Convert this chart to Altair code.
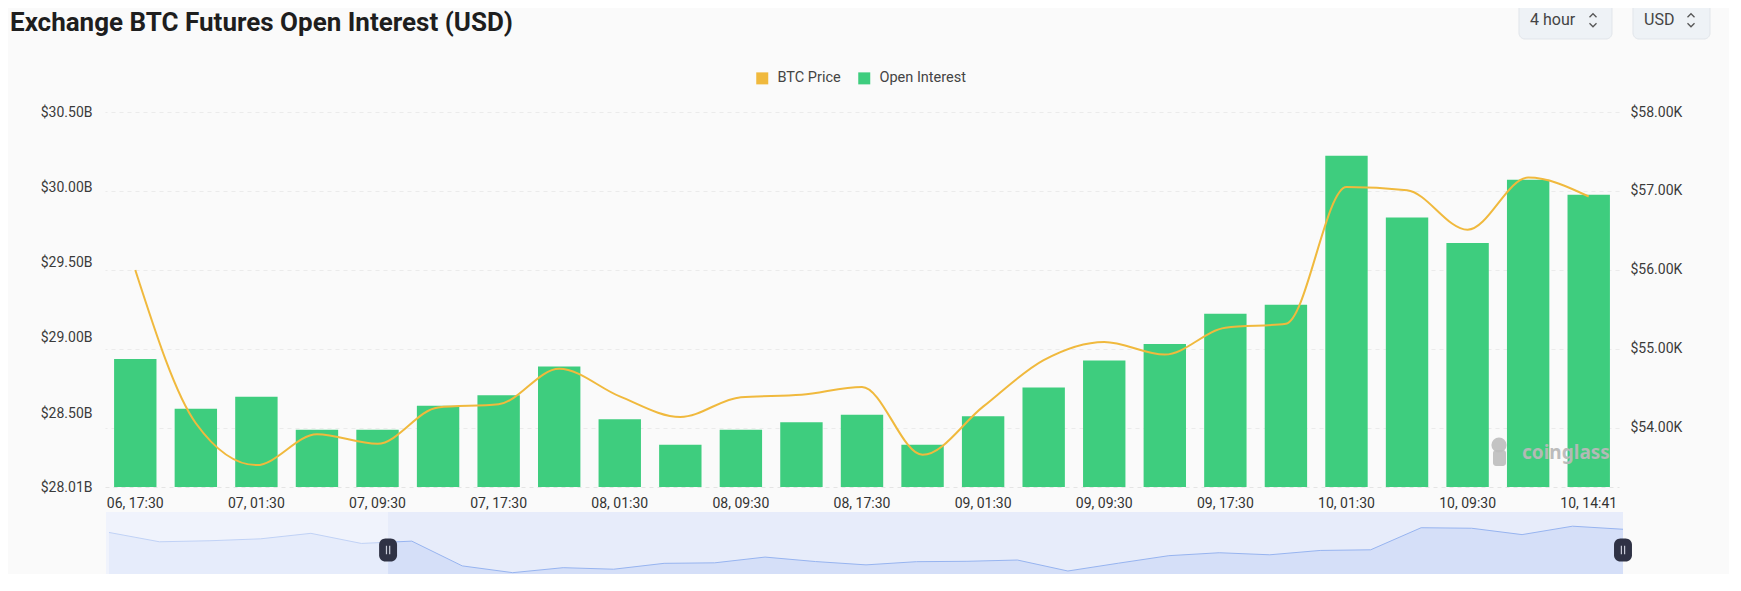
import altair as alt
import pandas as pd

# ---------------- data ----------------
times = ["06, 17:30", "06, 21:30", "07, 01:30", "07, 05:30", "07, 09:30", "07, 13:30",
         "07, 17:30", "07, 21:30", "08, 01:30", "08, 05:30", "08, 09:30", "08, 13:30",
         "08, 17:30", "08, 21:30", "09, 01:30", "09, 05:30", "09, 09:30", "09, 13:30",
         "09, 17:30", "09, 21:30", "10, 01:30", "10, 05:30", "10, 09:30", "10, 13:30",
         "10, 14:41"]
open_interest_b = [28.86, 28.53, 28.61, 28.39, 28.39, 28.55, 28.62, 28.81, 28.46, 28.29,
                   28.39, 28.44, 28.49, 28.29, 28.48, 28.67, 28.85, 28.96, 29.16, 29.22,
                   30.21, 29.80, 29.63, 30.05, 29.95]
btc_price_k = [56.00, 54.06, 53.53, 53.92, 53.80, 54.26, 54.30, 54.75, 54.40, 54.14,
               54.39, 54.42, 54.52, 53.66, 54.27, 54.86, 55.09, 54.93, 55.27, 55.32,
               57.05, 57.01, 56.51, 57.17, 56.93]
# overview (data-zoom) series: earlier price points followed by the visible window
earlier_price_k = [56.68, 55.95, 56.03, 56.18, 56.61, 55.82]
window_handles = [5.53, 30.0]
oi_axis_min = 28.01
left_ticks = [28.01, 28.5, 29.0, 29.5, 30.0, 30.5]
right_ticks = [54, 55, 56, 57, 58]
x_labels = times[::2]

GREEN = "#3ecd7e"
GOLD = "#f0b93d"
FONT = "Roboto"

df_main = pd.DataFrame({"time": times, "oi": open_interest_b, "price": btc_price_k,
                        "series": "Open Interest", "base": oi_axis_min})
overview_price = earlier_price_k + btc_price_k
df_over = pd.DataFrame({"i": list(range(len(overview_price))), "price": overview_price})

# ---------------- main chart ----------------
x_enc = alt.X("time:N", sort=times, title=None,
              scale=alt.Scale(paddingInner=0.3, paddingOuter=0.15),
              axis=alt.Axis(values=x_labels, labelAngle=0, ticks=False, grid=False,
                            domain=True, domainColor="#e4e4e4", domainDash=[4, 4],
                            labelPadding=9, labelFontSize=14, labelColor="#333333",
                            labelFont=FONT))

bars = alt.Chart(df_main).mark_bar().encode(
    x=x_enc,
    y=alt.Y("oi:Q", title=None,
            scale=alt.Scale(domain=[oi_axis_min, 30.5], nice=False, zero=False),
            axis=alt.Axis(orient="left", values=left_ticks, grid=False, ticks=False,
                          domain=False, labelPadding=13,
                          labelExpr="'$' + format(datum.value, '.2f') + 'B'")),
    y2="base:Q",
    color=alt.Color("series:N",
                    scale=alt.Scale(domain=["BTC Price", "Open Interest"], range=[GOLD, GREEN]),
                    legend=alt.Legend(orient="none", legendX=650, legendY=-41,
                                      direction="horizontal", title=None, symbolType="square",
                                      symbolSize=144, symbolStrokeWidth=0, labelFontSize=14.5,
                                      labelColor="#444444", labelFont=FONT, labelOffset=8,
                                      columnPadding=16, padding=0)),
)

price_line = alt.Chart(df_main).mark_line(color=GOLD, strokeWidth=2, interpolate="monotone").encode(
    x=alt.X("time:N", sort=times),
    y=alt.Y("price:Q", title=None,
            scale=alt.Scale(domain=[53.253, 58], nice=False, zero=False),
            axis=alt.Axis(orient="right", values=right_ticks, grid=True, gridDash=[4, 4],
                          gridColor="#ebebeb", ticks=False, domain=False, labelPadding=11,
                          labelExpr="'$' + format(datum.value, '.2f') + 'K'")),
)

main = alt.layer(bars, price_line).resolve_scale(y="independent")

# ---------------- overview slider ----------------
sx = alt.Scale(domain=[0, 30], range=[4, 1518])
sy = alt.Scale(domain=[53.425, 58], range=[462, 403.6], nice=False, zero=False)

box = alt.Chart(pd.DataFrame({"s": [-0.06], "h": [window_handles[1]]})).mark_rect(
    color="#e7ecfa").encode(
    x=alt.X("s:Q", scale=sx, axis=None), x2="h", y=alt.value(400), y2=alt.value(462))

over_area = alt.Chart(df_over).mark_area(color="#d5dff8", interpolate="linear").encode(
    x=alt.X("i:Q", scale=sx, axis=None),
    y=alt.Y("price:Q", scale=sy, axis=None), y2=alt.value(462))

over_line = alt.Chart(df_over).mark_line(color="#97b4f0", strokeWidth=1).encode(
    x=alt.X("i:Q", scale=sx, axis=None),
    y=alt.Y("price:Q", scale=sy, axis=None))

unselected = alt.Chart(pd.DataFrame({"s": [-0.06], "h": [window_handles[0]]})).mark_rect(
    color="#ffffff", opacity=0.4).encode(
    x=alt.X("s:Q", scale=sx, axis=None), x2="h", y=alt.value(400), y2=alt.value(462))

handle_path = ("M-0.23,-1 L0.23,-1 A0.55,0.55 0 0 1 0.78,-0.45 L0.78,0.45 "
               "A0.55,0.55 0 0 1 0.23,1 L-0.23,1 A0.55,0.55 0 0 1 -0.78,0.45 "
               "L-0.78,-0.45 A0.55,0.55 0 0 1 -0.23,-1 Z")
df_h = pd.DataFrame({"h": window_handles})
handles = alt.Chart(df_h).mark_point(shape=handle_path, filled=True, color="#2f3245",
                                     size=529, opacity=1).encode(
    x=alt.X("h:Q", scale=sx, axis=None), y=alt.value(438))
grips = alt.Chart(df_h).mark_point(shape="M-0.14,-0.38L-0.14,0.38M0.14,-0.38L0.14,0.38",
                                   filled=False, stroke="#c9ccd8", strokeWidth=1.2,
                                   size=529, opacity=1).encode(
    x=alt.X("h:Q", scale=sx, axis=None), y=alt.value(438))

slider = alt.layer(box, over_area, over_line, unselected, handles, grips)

# ---------------- decorations (title, selectors, watermark) ----------------
one = pd.DataFrame({"k": [0]})


def txt(text, x, y, size, color, weight="normal", font=FONT, align="left", opacity=1):
    return alt.Chart(one).mark_text(text=text, align=align, baseline="middle", fontSize=size,
                                    font=font, fontWeight=weight, color=color,
                                    opacity=opacity).encode(x=alt.value(x), y=alt.value(y))


title = txt("Exchange BTC Futures Open Interest (USD)", -95, -89, 26, "#1e1e1e", weight="bold")

btn1 = alt.Chart(one).mark_rect(color="#eef2f6", stroke="#e1e5ea", cornerRadius=6).encode(
    x=alt.value(1414), x2=alt.value(1507), y=alt.value(-111), y2=alt.value(-73))
btn2 = alt.Chart(one).mark_rect(color="#eef2f6", stroke="#e1e5ea", cornerRadius=6).encode(
    x=alt.value(1528), x2=alt.value(1605), y=alt.value(-111), y2=alt.value(-73))
btn1_t = txt("4 hour", 1425, -92, 16, "#444444")
btn2_t = txt("USD", 1539, -92, 16, "#444444")


def chevrons(x):
    up = alt.Chart(one).mark_point(shape="M-1,0.5L0,-0.5L1,0.5", filled=False, stroke="#555555",
                                   strokeWidth=1.3, size=49, opacity=1).encode(
        x=alt.value(x), y=alt.value(-96.5))
    dn = alt.Chart(one).mark_point(shape="M-1,-0.5L0,0.5L1,-0.5", filled=False, stroke="#555555",
                                   strokeWidth=1.3, size=49, opacity=1).encode(
        x=alt.value(x), y=alt.value(-87))
    return [up, dn]


wm_head = alt.Chart(one).mark_point(shape="circle", filled=True, color="#bdbdbd", size=230,
                                    opacity=0.9).encode(x=alt.value(1394), y=alt.value(333))
wm_body = alt.Chart(one).mark_rect(color="#bdbdbd", opacity=0.9, cornerRadius=3).encode(
    x=alt.value(1388), x2=alt.value(1401), y=alt.value(338), y2=alt.value(354))
wm_text = txt("coinglass", 1417, 341, 19, "#b9b9b9", weight="bold", font="Noto Sans",
              opacity=0.95)

decor = alt.layer(title, btn1, btn2, btn1_t, btn2_t, *chevrons(1488), *chevrons(1586),
                  wm_head, wm_body, wm_text)

chart = alt.layer(main, slider, decor).resolve_scale(x="independent", y="independent").properties(
    width=1514, height=375,
    padding={"left": 97, "top": 104, "right": 110, "bottom": 87},
    autosize=alt.AutoSizeParams(type="none"),
    background="#fafafa",
).configure_view(stroke=None).configure_axis(
    labelFont=FONT, labelFontSize=14, labelColor="#3a3a3a")

chart.save("out.html", embed_options={"renderer": "svg", "actions": False})
